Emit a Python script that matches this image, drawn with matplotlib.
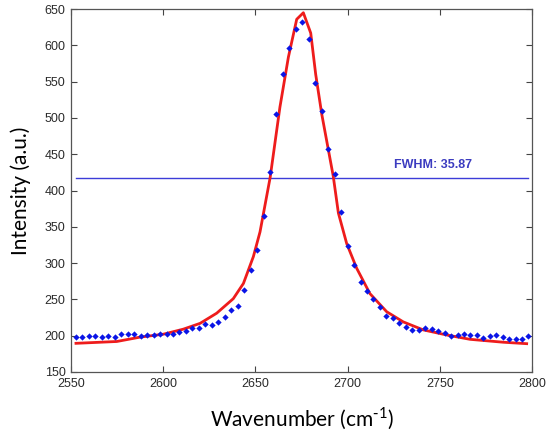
import numpy as np
import matplotlib.pyplot as plt

# measured spectrum (blue points)
wn = [2552.7, 2556.2, 2559.7, 2563.2, 2566.7, 2570.2, 2573.7, 2577.2, 2580.7, 2584.2,
      2587.8, 2591.3, 2594.8, 2598.3, 2601.8, 2605.3, 2608.8, 2612.3, 2615.8, 2619.3,
      2622.8, 2626.3, 2629.8, 2633.3, 2636.8, 2640.4, 2643.9, 2647.4, 2650.9, 2654.4,
      2657.9, 2661.4, 2664.9, 2668.4, 2671.9, 2675.4, 2678.9, 2682.4, 2685.9, 2689.4,
      2693.0, 2696.5, 2700.0, 2703.5, 2707.0, 2710.5, 2714.0, 2717.5, 2721.0, 2724.5,
      2728.0, 2731.5, 2735.0, 2738.5, 2742.0, 2745.6, 2749.1, 2752.6, 2756.1, 2759.6,
      2763.1, 2766.6, 2770.1, 2773.6, 2777.1, 2780.6, 2784.1, 2787.6, 2791.1, 2794.6,
      2798.0]
intensity = [198, 198, 199, 199, 198, 200, 198, 202, 202, 202,
             200, 201, 201, 203, 203, 203, 205, 206, 211, 211,
             216, 215, 219, 226, 235, 241, 263, 291, 318, 365,
             426, 505, 560, 596, 623, 632, 609, 548, 510, 457,
             423, 370, 324, 298, 274, 262, 251, 240, 227, 224,
             217, 212, 208, 208, 211, 209, 207, 204, 199, 201,
             202, 201, 201, 197, 199, 201, 198, 196, 196, 196,
             199]

# fitted curve (red line)
fit_wn = [2552.7, 2574.8, 2587.4, 2600.0, 2610.9, 2620.0, 2629.0, 2638.0, 2643.5,
          2648.9, 2652.5, 2658.0, 2663.3, 2667.9, 2672.4, 2676.0, 2680.0, 2682.7,
          2686.0, 2689.5, 2692.2, 2695.0, 2699.5, 2704.9, 2712.1, 2721.2, 2730.2,
          2741.0, 2753.7, 2766.4, 2784.4, 2797.1]
fit_int = [189.5, 192, 198, 202, 209, 217, 231, 251, 272,
           309, 343, 418, 515, 584, 636, 645, 617, 560,
           505, 457, 420, 369, 327, 293, 258, 233, 219,
           208, 201, 195, 191, 189]

half_max = 417
fwhm = 35.87

fig = plt.figure(figsize=(5.47, 4.34), dpi=100)
ax = fig.add_axes([0.1298, 0.1429, 0.8428, 0.8361])

ax.plot(fit_wn, fit_int, color='#ee1c1c', lw=2.0, zorder=2)
ax.plot(wn, intensity, 'D', color='#0a14e6', ms=3.2, mew=0, zorder=3)
ax.plot([wn[0], wn[-1]], [half_max, half_max], color='#3c3cd8', lw=1.0, zorder=1)
ax.text(2725, 431, 'FWHM: %.2f' % fwhm, color='#3c3cc0', fontsize=9,
        fontweight='bold', family='Liberation Sans')

ax.set_xlim(2550, 2800)
ax.set_ylim(150, 650)
ax.set_xticks(np.arange(2550, 2801, 50))
ax.set_yticks(np.arange(150, 651, 50))
ax.tick_params(direction='in', top=True, right=True, length=4, width=0.8,
               colors='#444444', labelsize=9, pad=4)
for lab in ax.get_xticklabels() + ax.get_yticklabels():
    lab.set_family('Liberation Sans')
    lab.set_color('#2a2a2a')
for sp in ax.spines.values():
    sp.set_color('#555555')
    sp.set_linewidth(0.9)

ax.set_xlabel('Wavenumber (cm$^{\\mathregular{\\text{-}1}}$)', fontsize=15, family='Lato', labelpad=12)
ax.set_ylabel('Intensity (a.u.)', fontsize=15, family='Lato', labelpad=10)

fig.savefig('out.png', dpi=100)
